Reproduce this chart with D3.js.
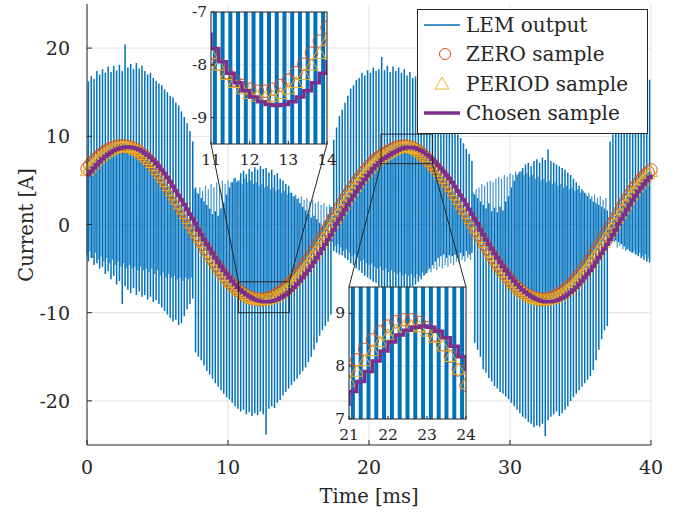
<!DOCTYPE html>
<html>
<head>
<meta charset="utf-8">
<script src="https://cdn.jsdelivr.net/npm/d3@7"></script>
<style>
  body { margin: 0; background: #fff; }
  text { font-family: "DejaVu Serif", serif; fill: #262626; }
</style>
</head>
<body>
<svg id="chart" width="684" height="514"></svg>
<script>
// sample step [ms]
var dt = 0.2;

// ZERO sample (circles), one every 0.2 ms from 0 to 40 ms
var zeroSample = [
  6.35,6.73,7.07,7.40,7.69,7.95,8.18,8.39,8.55,8.69,
  8.79,8.86,8.90,8.90,8.86,8.79,8.68,8.53,8.35,8.12,
  7.86,7.57,7.25,6.89,6.50,6.08,5.64,5.18,4.69,4.18,
  3.65,3.15,2.63,2.10,1.56,1.02,0.47,-0.07,-0.62,-1.16,
  -1.70,-2.23,-2.75,-3.25,-3.75,-4.23,-4.69,-5.13,-5.55,-5.95,
  -6.33,-6.67,-7.00,-7.29,-7.55,-7.78,-7.99,-8.15,-8.29,-8.39,
  -8.46,-8.50,-8.50,-8.46,-8.39,-8.29,-8.15,-7.99,-7.78,-7.55,
  -7.29,-7.00,-6.67,-6.33,-5.95,-5.55,-5.13,-4.69,-4.23,-3.75,
  -3.25,-2.75,-2.23,-1.70,-1.16,-0.62,-0.07,0.47,1.02,1.56,
  2.10,2.63,3.15,3.62,4.10,4.55,5.00,5.43,5.85,6.24,
  6.62,6.96,7.27,7.53,7.74,7.92,8.12,8.32,8.50,8.65,
  8.76,8.84,8.88,8.88,8.83,8.73,8.59,8.41,8.19,7.93,
  7.64,7.33,7.00,6.65,6.28,5.90,5.50,5.09,4.63,4.15,
  3.65,3.15,2.63,2.10,1.56,1.02,0.47,-0.07,-0.62,-1.16,
  -1.70,-2.23,-2.75,-3.25,-3.75,-4.23,-4.69,-5.13,-5.55,-5.95,
  -6.33,-6.67,-7.00,-7.29,-7.55,-7.78,-7.99,-8.15,-8.29,-8.39,
  -8.46,-8.50,-8.50,-8.46,-8.39,-8.29,-8.15,-7.99,-7.78,-7.55,
  -7.29,-7.00,-6.67,-6.33,-5.95,-5.55,-5.13,-4.69,-4.23,-3.75,
  -3.25,-2.75,-2.23,-1.70,-1.16,-0.62,-0.07,0.47,1.02,1.56,
  2.10,2.63,3.15,3.62,4.10,4.50,4.90,5.28,5.62,5.92,
  6.20
];

// PERIOD sample (triangles)
var periodSample = [
  6.02,6.41,6.77,7.11,7.42,7.69,7.94,8.16,8.34,8.49,
  8.61,8.70,8.75,8.77,8.75,8.70,8.61,8.48,8.31,8.11,
  7.86,7.59,7.28,6.94,6.57,6.16,5.73,5.28,4.81,4.31,
  3.79,3.27,2.76,2.24,1.70,1.16,0.62,0.07,-0.48,-1.02,
  -1.56,-2.10,-2.62,-3.13,-3.63,-4.12,-4.59,-5.04,-5.47,-5.88,
  -6.27,-6.63,-6.97,-7.28,-7.55,-7.80,-8.02,-8.20,-8.35,-8.47,
  -8.56,-8.61,-8.63,-8.61,-8.56,-8.47,-8.35,-8.20,-8.02,-7.80,
  -7.55,-7.28,-6.97,-6.63,-6.27,-5.88,-5.47,-5.04,-4.59,-4.12,
  -3.63,-3.13,-2.62,-2.10,-1.56,-1.02,-0.48,0.07,0.62,1.16,
  1.70,2.24,2.76,3.26,3.73,4.20,4.65,5.09,5.51,5.92,
  6.30,6.66,6.99,7.27,7.51,7.70,7.89,8.09,8.28,8.45,
  8.58,8.67,8.73,8.75,8.73,8.65,8.53,8.37,8.17,7.93,
  7.66,7.36,7.04,6.70,6.34,5.96,5.57,5.17,4.73,4.26,
  3.77,3.27,2.76,2.24,1.70,1.16,0.62,0.07,-0.48,-1.02,
  -1.56,-2.10,-2.62,-3.13,-3.63,-4.12,-4.59,-5.04,-5.47,-5.88,
  -6.27,-6.63,-6.97,-7.28,-7.55,-7.80,-8.02,-8.20,-8.35,-8.47,
  -8.56,-8.61,-8.63,-8.61,-8.56,-8.47,-8.35,-8.20,-8.02,-7.80,
  -7.55,-7.28,-6.97,-6.63,-6.27,-5.88,-5.47,-5.04,-4.59,-4.12,
  -3.63,-3.13,-2.62,-2.10,-1.56,-1.02,-0.48,0.07,0.62,1.16,
  1.70,2.24,2.76,3.26,3.73,4.17,4.57,4.96,5.32,5.64,
  5.93
];

// Chosen sample (purple stairs)
var chosenSample = [
  5.62,6.03,6.42,6.78,7.12,7.43,7.70,7.95,8.17,8.35,
  8.50,8.62,8.71,8.76,8.78,8.76,8.71,8.62,8.49,8.32,
  8.12,7.87,7.60,7.29,6.95,6.58,6.17,5.74,5.29,4.82,
  4.32,3.80,3.28,2.77,2.25,1.71,1.17,0.63,0.08,-0.62,
  -1.16,-1.70,-2.24,-2.76,-3.27,-3.77,-4.26,-4.73,-5.18,-5.61,
  -6.02,-6.41,-6.77,-7.11,-7.42,-7.69,-7.94,-8.16,-8.34,-8.49,
  -8.61,-8.70,-8.75,-8.77,-8.75,-8.70,-8.61,-8.49,-8.34,-8.16,
  -7.94,-7.69,-7.42,-7.11,-6.77,-6.41,-6.02,-5.61,-5.18,-4.73,
  -4.26,-3.77,-3.27,-2.76,-2.24,-1.70,-1.16,-0.62,0.08,0.63,
  1.17,1.71,2.25,2.77,3.27,3.74,4.21,4.66,5.10,5.52,
  5.93,6.31,6.67,7.00,7.28,7.52,7.71,7.90,8.10,8.29,
  8.46,8.59,8.68,8.74,8.76,8.74,8.66,8.54,8.38,8.18,
  7.94,7.67,7.37,7.05,6.71,6.35,5.97,5.58,5.18,4.74,
  4.27,3.78,3.28,2.77,2.25,1.71,1.17,0.63,0.08,-0.62,
  -1.16,-1.70,-2.24,-2.76,-3.27,-3.77,-4.26,-4.73,-5.18,-5.61,
  -6.02,-6.41,-6.77,-7.11,-7.42,-7.69,-7.94,-8.16,-8.34,-8.49,
  -8.61,-8.70,-8.75,-8.77,-8.75,-8.70,-8.61,-8.49,-8.34,-8.16,
  -7.94,-7.69,-7.42,-7.11,-6.77,-6.41,-6.02,-5.61,-5.18,-4.73,
  -4.26,-3.77,-3.27,-2.76,-2.24,-1.70,-1.16,-0.62,0.08,0.63,
  1.17,1.71,2.25,2.77,3.27,3.74,4.18,4.58,4.97,5.33,
  5.65
];

// LEM output: spike extremes in each 0.2 ms switching period
var lemHigh = [
  16.2,16.8,16.5,17.4,17.0,17.6,17.2,17.9,17.3,18.0,
  17.5,18.1,17.4,20.4,17.8,18.2,17.6,18.3,17.7,18.0,
  17.4,17.0,17.2,16.6,16.3,16.0,15.8,15.3,15.0,14.6,
  14.4,13.8,13.5,12.8,12.2,11.5,10.6,9.4,4.2,3.5,
  3.0,2.6,2.2,1.8,1.2,1.5,1.0,1.8,2.5,3.4,
  4.2,4.8,5.3,5.0,5.8,6.1,5.7,6.3,6.0,6.5,
  6.2,6.6,6.3,6.4,5.9,6.2,5.6,5.8,5.2,5.0,
  4.6,4.4,3.6,3.2,2.9,2.4,2.0,1.6,1.2,0.8,
  1.0,0.6,0.2,-0.2,0.4,1.2,2.0,9.6,11.0,12.3,
  13.0,13.8,14.6,15.4,15.8,16.4,16.6,17.2,16.9,17.5,
  17.2,17.8,17.4,17.6,19.0,17.5,18.0,17.3,17.9,17.4,
  17.8,17.2,17.6,16.9,17.3,16.6,16.8,16.0,16.2,15.5,
  15.2,14.6,14.2,13.8,13.2,12.9,12.3,12.0,11.4,11.1,
  10.6,10.2,9.8,9.2,8.6,8.0,7.2,3.4,3.0,2.6,
  2.2,1.8,2.4,1.5,1.9,1.4,2.0,1.6,2.6,3.2,
  4.2,5.0,5.6,6.0,6.4,6.8,7.0,6.6,7.2,7.4,
  7.0,7.6,7.3,8.5,7.2,7.0,6.8,6.6,6.4,6.2,
  5.9,5.6,5.2,4.8,4.4,4.0,3.6,3.2,2.9,2.6,
  2.4,2.2,2.0,1.8,1.6,9.4,10.2,10.8,11.2,11.6,
  12.0,12.5,13.0,13.4,13.8,14.2,14.6,15.2,15.8,16.4
];
var lemLow = [
  -4.2,-3.8,-4.6,-4.4,-5.0,-4.8,-5.6,-5.3,-6.2,-5.8,
  -6.8,-6.4,-9.0,-7.0,-7.4,-7.8,-7.2,-8.0,-7.6,-8.2,
  -8.0,-8.5,-8.2,-8.8,-8.6,-9.0,-9.4,-9.8,-10.2,-10.6,
  -11.0,-10.8,-11.4,-11.2,-10.4,-9.6,-9.0,-8.4,-14.5,-15.0,
  -15.4,-16.0,-16.6,-17.0,-17.5,-18.0,-18.4,-18.8,-19.2,-19.6,
  -19.8,-20.2,-20.6,-20.9,-21.2,-21.0,-21.5,-21.3,-21.7,-21.4,
  -21.6,-21.2,-21.5,-23.8,-20.9,-20.6,-20.8,-20.2,-19.9,-19.4,
  -19.0,-18.6,-18.2,-17.8,-17.5,-17.0,-16.6,-16.2,-15.6,-15.0,
  -14.2,-13.4,-12.6,-12.0,-11.5,-11.0,-10.2,-3.0,-3.2,-3.4,
  -3.5,-3.8,-4.0,-4.4,-4.6,-5.0,-5.2,-5.5,-5.8,-6.0,
  -6.2,-6.5,-6.6,-7.0,-7.2,-7.4,-7.6,-7.8,-8.0,-7.9,
  -8.2,-8.0,-7.8,-7.6,-7.4,-7.0,-6.8,-6.5,-6.2,-5.8,
  -5.5,-5.0,-4.6,-4.2,-3.8,-3.6,-3.4,-3.8,-3.5,-3.6,
  -3.4,-3.8,-3.2,-3.6,-3.0,-3.4,-3.2,-13.4,-14.2,-15.0,
  -16.4,-16.8,-17.4,-17.8,-18.3,-18.6,-19.0,-19.2,-19.5,-19.8,
  -20.2,-20.6,-21.0,-21.4,-21.8,-22.0,-22.4,-22.6,-23.0,-22.8,
  -22.9,-22.6,-24.0,-22.2,-21.8,-21.5,-21.2,-21.7,-21.4,-21.0,
  -20.6,-20.0,-19.6,-19.2,-18.8,-18.4,-18.0,-17.6,-17.2,-16.5,
  -15.4,-14.2,-13.0,-12.0,-11.5,-1.4,-1.6,-1.8,-2.0,-2.2,
  -2.5,-2.8,-3.0,-3.2,-3.4,-3.6,-3.8,-4.0,-4.2,-4.3
];
// LEM output: far end of the shorter spike at the start of each period
var lemInner = [
  -3.5,-3.0,-3.8,-3.2,-4.0,-3.6,-4.2,-3.8,-4.4,-4.0,
  -4.6,-4.2,-4.8,-4.4,-5.0,-4.6,-5.0,-4.8,-5.2,-4.8,
  -5.2,-5.0,-5.4,-5.0,-5.6,-5.2,-5.8,-5.4,-6.0,-5.6,
  -6.0,-5.8,-6.2,-6.0,-6.4,-6.0,-6.2,-6.0,4.0,3.6,
  4.2,3.8,4.4,4.0,4.6,4.2,4.8,4.4,5.0,4.6,
  5.0,4.8,5.2,4.8,5.0,4.6,5.2,4.8,5.0,4.6,
  4.8,4.4,4.6,4.2,4.4,4.0,4.2,3.8,4.0,3.6,
  3.8,3.4,3.6,3.2,3.4,3.0,3.2,2.8,3.0,2.6,
  2.8,2.4,2.6,2.2,2.4,2.0,2.2,-2.0,-2.4,-2.2,
  -2.6,-3.0,-2.8,-3.2,-3.6,-3.4,-3.8,-4.2,-4.0,-4.4,
  -4.6,-4.4,-4.8,-5.0,-4.8,-5.2,-5.0,-5.4,-5.2,-5.4,
  -5.6,-5.4,-5.8,-5.6,-5.8,-5.6,-6.0,-5.6,-5.8,-5.4,
  -5.6,-5.2,-5.4,-5.0,-5.2,-4.8,-5.0,-4.6,-4.8,-4.4,
  -4.6,-4.2,-4.4,-4.0,-4.2,-3.8,-4.0,3.6,4.0,4.2,
  4.6,4.4,4.8,5.0,4.8,5.2,5.4,5.2,5.6,5.4,
  5.8,5.6,6.0,5.8,6.0,5.6,5.8,5.4,5.6,5.2,
  5.4,5.0,5.2,4.8,5.0,4.6,4.8,4.4,4.6,4.2,
  4.4,4.0,4.2,3.8,4.0,3.6,3.8,3.4,3.6,3.2,
  3.4,3.0,3.2,2.8,3.0,-1.8,-2.2,-2.0,-2.6,-2.4,
  -2.8,-3.0,-2.8,-3.2,-3.0,-3.4,-3.2,-3.6,-3.4,-3.8
];

var xTicks = [0, 10, 20, 30, 40];
var yTicks = [-20, -10, 0, 10, 20];
var inset1XTicks = [11, 12, 13, 14];
var inset1YTicks = [-9, -8, -7];
var inset2XTicks = [21, 22, 23, 24];
var inset2YTicks = [7, 8, 9];
var legendLabels = ["LEM output", "ZERO sample", "PERIOD sample", "Chosen sample"];

var BLUE = "#0072BD", ORANGE = "#D95319", YELLOW = "#EDB120", PURPLE = "#7E2F8E";
var AXIS = "#262626", GRID = "#e3e3e3";

var svg = d3.select("#chart");

function tri(cx, cy, s) {
  return "M" + cx + "," + (cy - s * 1.05) + "L" + (cx + s) + "," + (cy + s * 0.65) +
    "L" + (cx - s) + "," + (cy + s * 0.65) + "Z";
}

// draws all four series into g, using scales x and y
function drawSeries(g, x, y, barWidth, withInner) {
  var d = "";
  lemHigh.forEach(function(h, i) {
    var xx = x(i * dt + dt / 2);
    d += "M" + xx + "," + y(lemLow[i]) + "V" + y(h);
  });
  if (withInner) {
    var d2 = "";
    lemInner.forEach(function(v, i) {
      d2 += "M" + x(i * dt) + "," + y(zeroSample[i]) + "V" + y(v);
    });
    g.append("path").attr("d", d2).attr("stroke", BLUE).attr("stroke-opacity", 0.75)
      .attr("stroke-width", 1.2).attr("fill", "none");
  }
  g.append("path").attr("d", d).attr("stroke", BLUE)
    .attr("stroke-width", barWidth).attr("fill", "none");

  g.selectAll("circle.zero").data(zeroSample).enter().append("circle")
    .attr("class", "zero")
    .attr("cx", function(v, i) { return x(i * dt); })
    .attr("cy", function(v) { return y(v); })
    .attr("r", 6.2)
    .attr("fill", "none").attr("stroke", ORANGE).attr("stroke-width", 1);

  g.selectAll("path.period").data(periodSample).enter().append("path")
    .attr("class", "period")
    .attr("d", function(v, i) { return tri(x(i * dt), y(v), 6.5); })
    .attr("fill", "none").attr("stroke", YELLOW).attr("stroke-width", 1);

  var stairs = d3.line()
    .x(function(v, i) { return x(i * dt); })
    .y(function(v) { return y(v); })
    .curve(d3.curveStepAfter);
  g.append("path").attr("d", stairs(chosenSample))
    .attr("stroke", PURPLE).attr("stroke-width", 3.5).attr("fill", "none");
}

// ---------------- main axes ----------------
var x = d3.scaleLinear().domain([0, 40]).range([87, 651]);
var y = d3.scaleLinear().domain([-25, 25]).range([445, 4]);

var grid = svg.append("g");
xTicks.forEach(function(t) {
  grid.append("line").attr("x1", x(t)).attr("x2", x(t)).attr("y1", y(-25)).attr("y2", y(25))
    .attr("stroke", GRID);
});
yTicks.forEach(function(t) {
  grid.append("line").attr("x1", x(0)).attr("x2", x(40)).attr("y1", y(t)).attr("y2", y(t))
    .attr("stroke", GRID);
});

var mainData = svg.append("g");
drawSeries(mainData, x, y, 1.5, true);

// axes lines and inward ticks
svg.append("line").attr("x1", x(0)).attr("x2", x(40)).attr("y1", y(-25)).attr("y2", y(-25))
  .attr("stroke", AXIS);
svg.append("line").attr("x1", x(0)).attr("x2", x(0)).attr("y1", y(-25)).attr("y2", y(25))
  .attr("stroke", AXIS);
xTicks.forEach(function(t) {
  svg.append("line").attr("x1", x(t)).attr("x2", x(t)).attr("y1", y(-25)).attr("y2", y(-25) - 5)
    .attr("stroke", AXIS);
  svg.append("text").attr("x", x(t)).attr("y", 474).attr("text-anchor", "middle")
    .style("font-size", "19px").text(t);
});
yTicks.forEach(function(t) {
  svg.append("line").attr("x1", x(0)).attr("x2", x(0) + 5).attr("y1", y(t)).attr("y2", y(t))
    .attr("stroke", AXIS);
  svg.append("text").attr("x", 70).attr("y", y(t) + 7).attr("text-anchor", "end")
    .style("font-size", "19px").text(t);
});
svg.append("text").attr("x", 369).attr("y", 503).attr("text-anchor", "middle")
  .style("font-size", "19.5px").text("Time [ms]");
svg.append("text").attr("transform", "translate(33,225) rotate(-90)")
  .attr("text-anchor", "middle").style("font-size", "19.5px").text("Current [A]");

// ---------------- zoom boxes and connectors ----------------
var zoomBoxes = [
  { x0: 10.75, x1: 14.35, y0: -10.0, y1: -6.5 },
  { x0: 20.85, x1: 24.5, y0: 6.9, y1: 10.25 }
];
var insets = [
  { id: "in1", xd: [11, 14], yd: [-9.5, -7], left: 211, right: 327, top: 12, bottom: 144,
    xt: inset1XTicks, yt: inset1YTicks },
  { id: "in2", xd: [21, 24], yd: [7, 9.5], left: 349, right: 466, top: 287, bottom: 419,
    xt: inset2XTicks, yt: inset2YTicks }
];

zoomBoxes.forEach(function(b) {
  svg.append("rect").attr("x", x(b.x0)).attr("y", y(b.y1))
    .attr("width", x(b.x1) - x(b.x0)).attr("height", y(b.y0) - y(b.y1))
    .attr("fill", "none").attr("stroke", AXIS).attr("stroke-width", 1);
});
// box 1 top corners -> inset 1 bottom corners, box 2 bottom corners -> inset 2 top corners
svg.append("line").attr("x1", x(zoomBoxes[0].x0)).attr("y1", y(zoomBoxes[0].y1))
  .attr("x2", insets[0].left).attr("y2", insets[0].bottom).attr("stroke", AXIS);
svg.append("line").attr("x1", x(zoomBoxes[0].x1)).attr("y1", y(zoomBoxes[0].y1))
  .attr("x2", insets[0].right).attr("y2", insets[0].bottom).attr("stroke", AXIS);
svg.append("line").attr("x1", x(zoomBoxes[1].x0)).attr("y1", y(zoomBoxes[1].y0))
  .attr("x2", insets[1].left).attr("y2", insets[1].top).attr("stroke", AXIS);
svg.append("line").attr("x1", x(zoomBoxes[1].x1)).attr("y1", y(zoomBoxes[1].y0))
  .attr("x2", insets[1].right).attr("y2", insets[1].top).attr("stroke", AXIS);

// ---------------- insets ----------------
insets.forEach(function(p) {
  var ix = d3.scaleLinear().domain(p.xd).range([p.left, p.right]);
  var iy = d3.scaleLinear().domain(p.yd).range([p.bottom, p.top]);
  var g = svg.append("g");
  g.append("rect").attr("x", p.left).attr("y", p.top)
    .attr("width", p.right - p.left).attr("height", p.bottom - p.top).attr("fill", "#fff");
  p.xt.forEach(function(t) {
    g.append("line").attr("x1", ix(t)).attr("x2", ix(t)).attr("y1", p.top).attr("y2", p.bottom)
      .attr("stroke", GRID);
  });
  p.yt.forEach(function(t) {
    g.append("line").attr("x1", p.left).attr("x2", p.right).attr("y1", iy(t)).attr("y2", iy(t))
      .attr("stroke", GRID);
  });
  g.append("clipPath").attr("id", p.id + "clip").append("rect")
    .attr("x", p.left).attr("y", p.top)
    .attr("width", p.right - p.left).attr("height", p.bottom - p.top);
  var dg = g.append("g").attr("clip-path", "url(#" + p.id + "clip)");
  drawSeries(dg, ix, iy, 4, false);
  g.append("rect").attr("x", p.left).attr("y", p.top)
    .attr("width", p.right - p.left).attr("height", p.bottom - p.top)
    .attr("fill", "none").attr("stroke", AXIS).attr("stroke-width", 1);
  p.xt.forEach(function(t) {
    g.append("line").attr("x1", ix(t)).attr("x2", ix(t)).attr("y1", p.bottom).attr("y2", p.bottom - 3)
      .attr("stroke", AXIS);
    g.append("text").attr("x", ix(t)).attr("y", p.bottom + 21).attr("text-anchor", "middle")
      .style("font-size", "15.5px").text(t);
  });
  p.yt.forEach(function(t) {
    g.append("line").attr("x1", p.left).attr("x2", p.left + 3).attr("y1", iy(t)).attr("y2", iy(t))
      .attr("stroke", AXIS);
    g.append("text").attr("x", p.left - 4).attr("y", iy(t) + 5).attr("text-anchor", "end")
      .style("font-size", "15.5px").text(t);
  });
});

// ---------------- legend ----------------
var lg = svg.append("g");
lg.append("rect").attr("x", 417.5).attr("y", 9.5).attr("width", 230).attr("height", 124)
  .attr("fill", "#fff").attr("stroke", AXIS).attr("stroke-width", 1);
var rowY = [25, 54, 83.5, 113];
legendLabels.forEach(function(label, i) {
  var cy = rowY[i];
  if (i === 0) {
    lg.append("line").attr("x1", 424).attr("x2", 460).attr("y1", cy).attr("y2", cy)
      .attr("stroke", BLUE).attr("stroke-width", 1.3);
  } else if (i === 1) {
    lg.append("circle").attr("cx", 445).attr("cy", cy).attr("r", 5.5)
      .attr("fill", "none").attr("stroke", ORANGE);
  } else if (i === 2) {
    lg.append("path").attr("d", tri(442, cy + 1, 7)).attr("fill", "none").attr("stroke", YELLOW);
  } else {
    lg.append("line").attr("x1", 424).attr("x2", 460).attr("y1", cy).attr("y2", cy)
      .attr("stroke", PURPLE).attr("stroke-width", 3.5);
  }
  lg.append("text").attr("x", 466).attr("y", cy + 7).style("font-size", "20px").text(label);
});
</script>
</body>
</html>
